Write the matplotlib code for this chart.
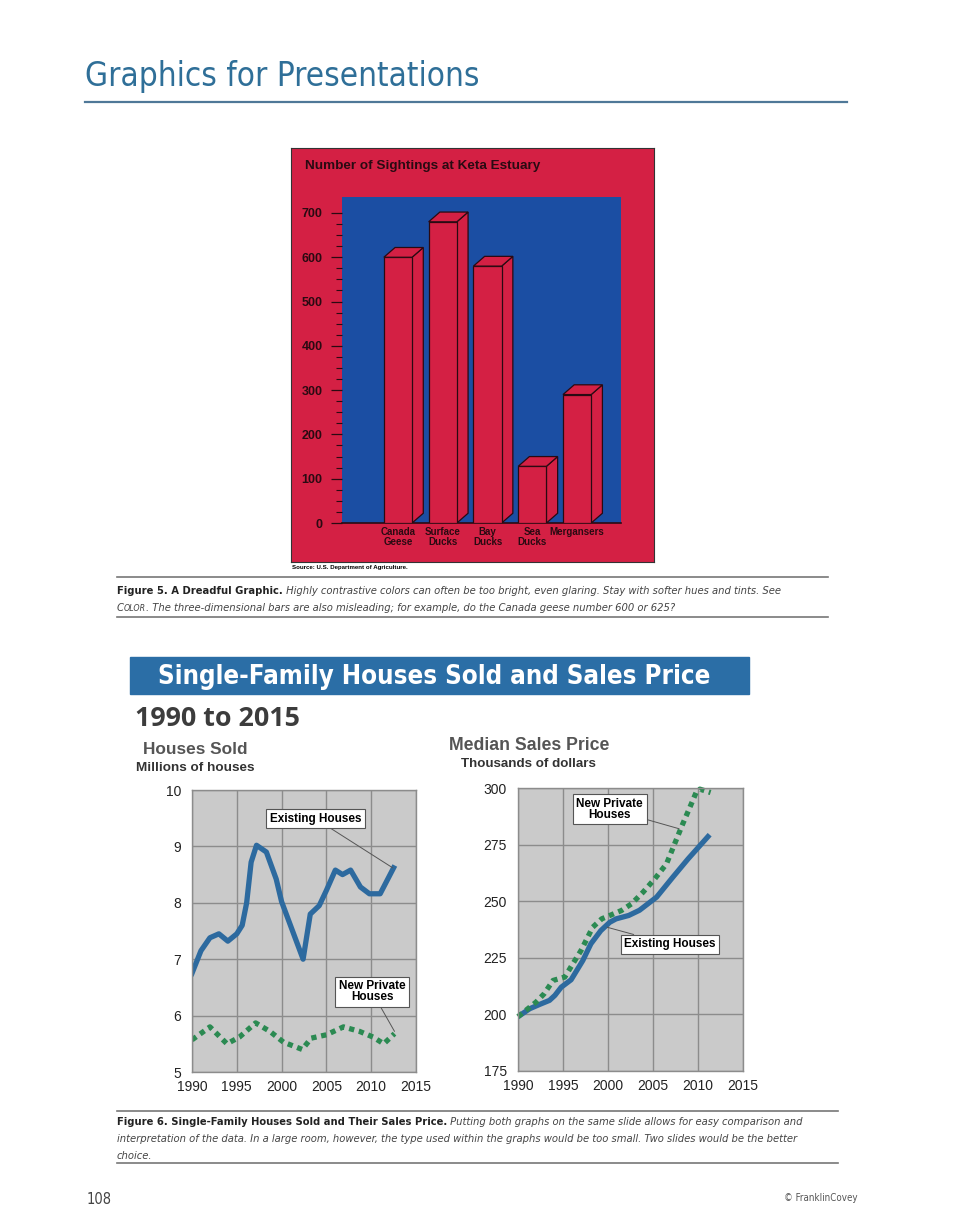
import matplotlib
matplotlib.use("Agg")
import matplotlib.pyplot as plt
from matplotlib import font_manager
from matplotlib.patches import Polygon, Rectangle
from matplotlib.lines import Line2D
from matplotlib.ticker import FixedLocator

W, H = 960, 1229

fonts = font_manager.fontManager.ttflist
names = {f.name for f in fonts}
SANS = "Liberation Sans"
# narrow face for the page text, if one is installed
if "Liberation Sans Narrow" in names:
    NARROW, STRETCH = "Liberation Sans Narrow", "normal"
elif any(f.name == "DejaVu Sans" and f.stretch == "condensed" for f in fonts):
    NARROW, STRETCH = "DejaVu Sans", "condensed"
else:
    NARROW, STRETCH = SANS, "normal"
plt.rcParams["font.family"] = [SANS, "DejaVu Sans"]

# Figure 5 data
bird_labels = ["Canada\nGeese", "Surface\nDucks", "Bay\nDucks", "Sea\nDucks", "Mergansers"]
bird_counts = [600, 680, 580, 128, 290]

# Figure 6 data - houses sold (millions)
sold_years = [1990, 1991, 1992, 1993, 1994, 1995, 1995.6, 1996.1, 1996.6, 1997.2, 1998.3,
              1999.4, 2000, 2002.4, 2003.2, 2004.2, 2005, 2006, 2006.8, 2007.7, 2008.8,
              2009.8, 2011, 2012.5]
existing_sold = [6.75, 7.15, 7.38, 7.45, 7.32, 7.45, 7.6, 8.0, 8.72, 9.02, 8.9,
                 8.42, 8.02, 7.0, 7.8, 7.95, 8.22, 8.58, 8.5, 8.58, 8.28,
                 8.16, 8.16, 8.62]
new_sold_years = [1990, 1992, 1993.9, 1995.3, 1997.1, 1998.7, 2000.2, 2002.3, 2003.3,
                  2005, 2006.9, 2008.7, 2010.2, 2011.4, 2012.6]
new_sold = [5.57, 5.8, 5.5, 5.62, 5.87, 5.72, 5.53, 5.4, 5.6,
            5.66, 5.8, 5.72, 5.62, 5.5, 5.68]

# median sales price (thousands of dollars)
price_years = [1990, 1991.3, 1992.4, 1993.5, 1994.1, 1994.8, 1995.9, 1997.2, 1998.1,
               1999.2, 2000.2, 2000.9, 2002.3, 2003.5, 2005.4, 2007.2, 2008.9, 2011.1]
existing_price = [199, 202.5, 204.4, 206.2, 208.4, 212, 215.3, 223.8, 231.2,
                  237, 240.7, 242.2, 243.7, 246, 251.8, 260.6, 268.7, 278.5]
new_price_years = [1990, 1992, 1992.9, 1993.9, 1995.2, 1996.1, 1997, 1998.3, 1999.3,
                   2000.2, 2001.5, 2002.6, 2003.9, 2005.2, 2006.5, 2007.4, 2008.3,
                   2009.1, 2009.8, 2010.2, 2011.4]
new_price = [199, 205.4, 209.1, 215, 216.5, 222.4, 228.2, 238.5, 242.2,
             243.7, 245.9, 248.8, 254, 259.9, 266.5, 275.3, 284.1,
             291.5, 298.1, 299.5, 298]

year_ticks = [1990, 1995, 2000, 2005, 2010, 2015]

RED = "#d42044"
BLUE = "#1b4ea3"
DARK = "#2a0a12"
LINE_BLUE = "#2d6a9f"
GREEN = "#2b8a52"
GRID = "#8c8c8c"


def rect(x0, y0, x1, y1):
    return [x0 / W, 1 - y1 / H, (x1 - x0) / W, (y1 - y0) / H]


def put(x, y, s, **kw):
    return fig.text(x / W, 1 - y / H, s, **kw)


def hline(x0, x1, y, color="#777777", lw=1.2):
    fig.add_artist(Line2D([x0 / W, x1 / W], [1 - y / H] * 2, color=color, lw=lw))


def fit(x0, x1, y, s, size, **kw):
    t = put(x0, y, s, fontsize=size, **kw)
    w = t.get_window_extent(renderer).width
    t.set_fontsize(size * (x1 - x0) / w)
    return t


def runs(x, y, parts):
    out = []
    for s, kw in parts:
        t = put(x, y, s, va="baseline", **kw)
        x += t.get_window_extent(renderer).width
        out.append(t)
    return out, x


fig = plt.figure(figsize=(W / 100, H / 100), dpi=100)
fig.patch.set_facecolor("white")
renderer = fig.canvas.get_renderer()

# page header
fit(85, 480, 86, "Graphics for Presentations", 23, family=NARROW, stretch=STRETCH,
    color="#2f6f98", va="baseline")
hline(85, 847, 101.5, color="#4f7898", lw=1.6)

# ---- Figure 5: the dreadful 3D bar chart ----
bg = fig.add_axes(rect(291, 148, 654, 562))
bg.set_facecolor(RED)
bg.set_xticks([])
bg.set_yticks([])
for s in bg.spines.values():
    s.set_color("#333333")
    s.set_linewidth(0.8)

ax = fig.add_axes(rect(342, 197, 621, 523))
ax.set_facecolor(BLUE)
xs = list(range(len(bird_counts)))
bw, dx, dy = 0.63, 0.25, 22
ax.bar(xs, bird_counts, width=bw, color=RED, edgecolor=DARK, lw=0.9, zorder=3)
for x, v in zip(xs, bird_counts):
    r = x + bw / 2
    side = [(r, 0), (r + dx, dy), (r + dx, v + dy), (r, v)]
    top = [(x - bw / 2, v), (r, v), (r + dx, v + dy), (x - bw / 2 + dx, v + dy)]
    ax.add_patch(Polygon(side, closed=True, fc=RED, ec=DARK, lw=0.9, zorder=2))
    ax.add_patch(Polygon(top, closed=True, fc=RED, ec=DARK, lw=0.9, zorder=4))
ax.set_xlim(-1.25, 4.98)
ax.set_ylim(0, 736)
ax.set_yticks(range(0, 701, 100))
ax.yaxis.set_minor_locator(FixedLocator([v for v in range(25, 700, 25) if v % 100]))
ax.tick_params(axis="y", which="major", length=8, width=0.9, color=DARK, pad=6,
               labelsize=9, labelcolor=DARK)
ax.tick_params(axis="y", which="minor", length=4, width=0.8, color=DARK)
ax.set_xticks(xs, bird_labels)
ax.tick_params(axis="x", length=0, pad=3, labelsize=7, labelcolor=DARK)
for lab in ax.get_yticklabels() + ax.get_xticklabels():
    lab.set_fontweight("bold")
for lab in ax.get_xticklabels():
    lab.set_linespacing(0.95)
for side_name in ["left", "top", "right"]:
    ax.spines[side_name].set_visible(False)
ax.spines["bottom"].set_color(DARK)
ax.spines["bottom"].set_linewidth(1.2)

fit(305, 540, 166, "Number of Sightings at Keta Estuary", 9, weight="bold", color=DARK, va="center")
put(292, 568, "Source: U.S. Department of Agriculture.", fontsize=4.4, weight="bold", va="center")

# caption text styles, sized so the first caption line ends where the reference does
def cap_styles(size):
    base = dict(family=NARROW, stretch=STRETCH, fontsize=size)
    return (dict(base, weight="bold", color="#222222"),
            dict(base, style="italic", color="#444444"),
            dict(base, fontsize=size * 0.78, style="italic", color="#444444"))


cap6_line1 = ("Figure 6. Single-Family Houses Sold and Their Sales Price.",
              " Putting both graphs on the same slide allows for easy comparison and")
bold, ital, small = cap_styles(10)
probe, end = runs(0, 0, [(cap6_line1[0], bold), (cap6_line1[1], ital)])
for t in probe:
    t.remove()
bold, ital, small = cap_styles(10 * 685 / end)

# caption 5
hline(117, 828, 577)
runs(117, 594, [("Figure 5. A Dreadful Graphic.", bold),
                (" Highly contrastive colors can often be too bright, even glaring. "
                 "Stay with softer hues and tints. See", ital)])
runs(117, 611, [("C", ital), ("OLOR", small),
                (". The three-dimensional bars are also misleading; for example, "
                 "do the Canada geese number 600 or 625?", ital)])
hline(117, 828, 617)

# ---- Figure 6: houses sold and sales price ----
fig.add_artist(Rectangle((130 / W, 1 - 694 / H), 619 / W, 37 / H,
                         transform=fig.transFigure, color="#2b6ea6"))
fit(158, 712, 677, "Single-Family Houses Sold and Sales Price", 19, family=NARROW,
    stretch=STRETCH, weight="bold", color="white", va="center")
fit(135, 300, 719, "1990 to 2015", 19, family=["Open Sans", SANS], weight="bold",
    color="#3c3c3c", va="center")
fit(143, 247, 749, "Houses Sold", 12, weight="bold", color="#555555", va="center")
fit(136, 254, 768, "Millions of houses", 8.5, weight="bold", color="#333333", va="center")
fit(449, 608, 745, "Median Sales Price", 12, weight="bold", color="#555555", va="center")
fit(461, 596, 764, "Thousands of dollars", 8.5, weight="bold", color="#333333", va="center")


def style_line_axes(a, yticks):
    a.set_facecolor("#cacaca")
    a.set_xlim(1990, 2015)
    a.set_ylim(yticks[0], yticks[-1])
    a.set_xticks(year_ticks)
    a.set_yticks(yticks)
    a.grid(True, color=GRID, lw=1.0)
    a.set_axisbelow(True)
    a.tick_params(length=0, labelsize=10, labelcolor="#222222")
    a.tick_params(axis="y", pad=8)
    a.tick_params(axis="x", pad=6)
    for s in a.spines.values():
        s.set_color(GRID)
        s.set_linewidth(1.0)


box = dict(boxstyle="square,pad=0.3", fc="white", ec="#555555", lw=0.8)
leader = dict(arrowstyle="-", color="#555555", lw=0.7, shrinkA=0, shrinkB=0)

left = fig.add_axes(rect(192, 790, 416, 1072))
style_line_axes(left, [5, 6, 7, 8, 9, 10])
left.plot(sold_years, existing_sold, color=LINE_BLUE, lw=3.8, solid_joinstyle="round")
left.plot(new_sold_years, new_sold, color=GREEN, lw=3.8, ls=(0, (1, 0.9)), dash_capstyle="butt")
left.annotate("Existing Houses", xy=(2012.4, 8.62), xytext=(2003.8, 9.49), ha="center", va="center",
              fontsize=8.5, weight="bold", bbox=box, arrowprops=leader)
left.annotate("New Private\nHouses", xy=(2012.6, 5.72), xytext=(2010.1, 6.42), ha="center", va="center",
              fontsize=8.5, weight="bold", linespacing=0.9, bbox=box, arrowprops=leader)

right = fig.add_axes(rect(518, 788, 743, 1071))
style_line_axes(right, [175, 200, 225, 250, 275, 300])
right.plot(price_years, existing_price, color=LINE_BLUE, lw=3.8, solid_joinstyle="round")
right.plot(new_price_years, new_price, color=GREEN, lw=3.8, ls=(0, (1, 0.9)), dash_capstyle="butt",
           clip_on=False)
right.annotate("New Private\nHouses", xy=(2007.9, 282), xytext=(2000.2, 290.7), ha="center", va="center",
               fontsize=8.5, weight="bold", linespacing=0.9, bbox=box, arrowprops=leader)
right.annotate("Existing Houses", xy=(1999.9, 238.5), xytext=(2006.9, 230.9), ha="center", va="center",
               fontsize=8.5, weight="bold", bbox=box, arrowprops=leader)

# caption 6
hline(117, 838, 1111)
runs(117, 1125, [(cap6_line1[0], bold), (cap6_line1[1], ital)])
runs(117, 1142, [("interpretation of the data. In a large room, however, the type used within "
                  "the graphs would be too small. Two slides would be the better", ital)])
runs(117, 1159, [("choice.", ital)])
hline(117, 838, 1163)

# footer
put(87, 1199, "108", family=NARROW, stretch=STRETCH, fontsize=10.5, color="#444444", va="center")
put(858, 1198, "\u00a9 FranklinCovey", family=NARROW, stretch=STRETCH, fontsize=7,
    color="#555555", va="center", ha="right")

fig.savefig("out.png", dpi=100)
